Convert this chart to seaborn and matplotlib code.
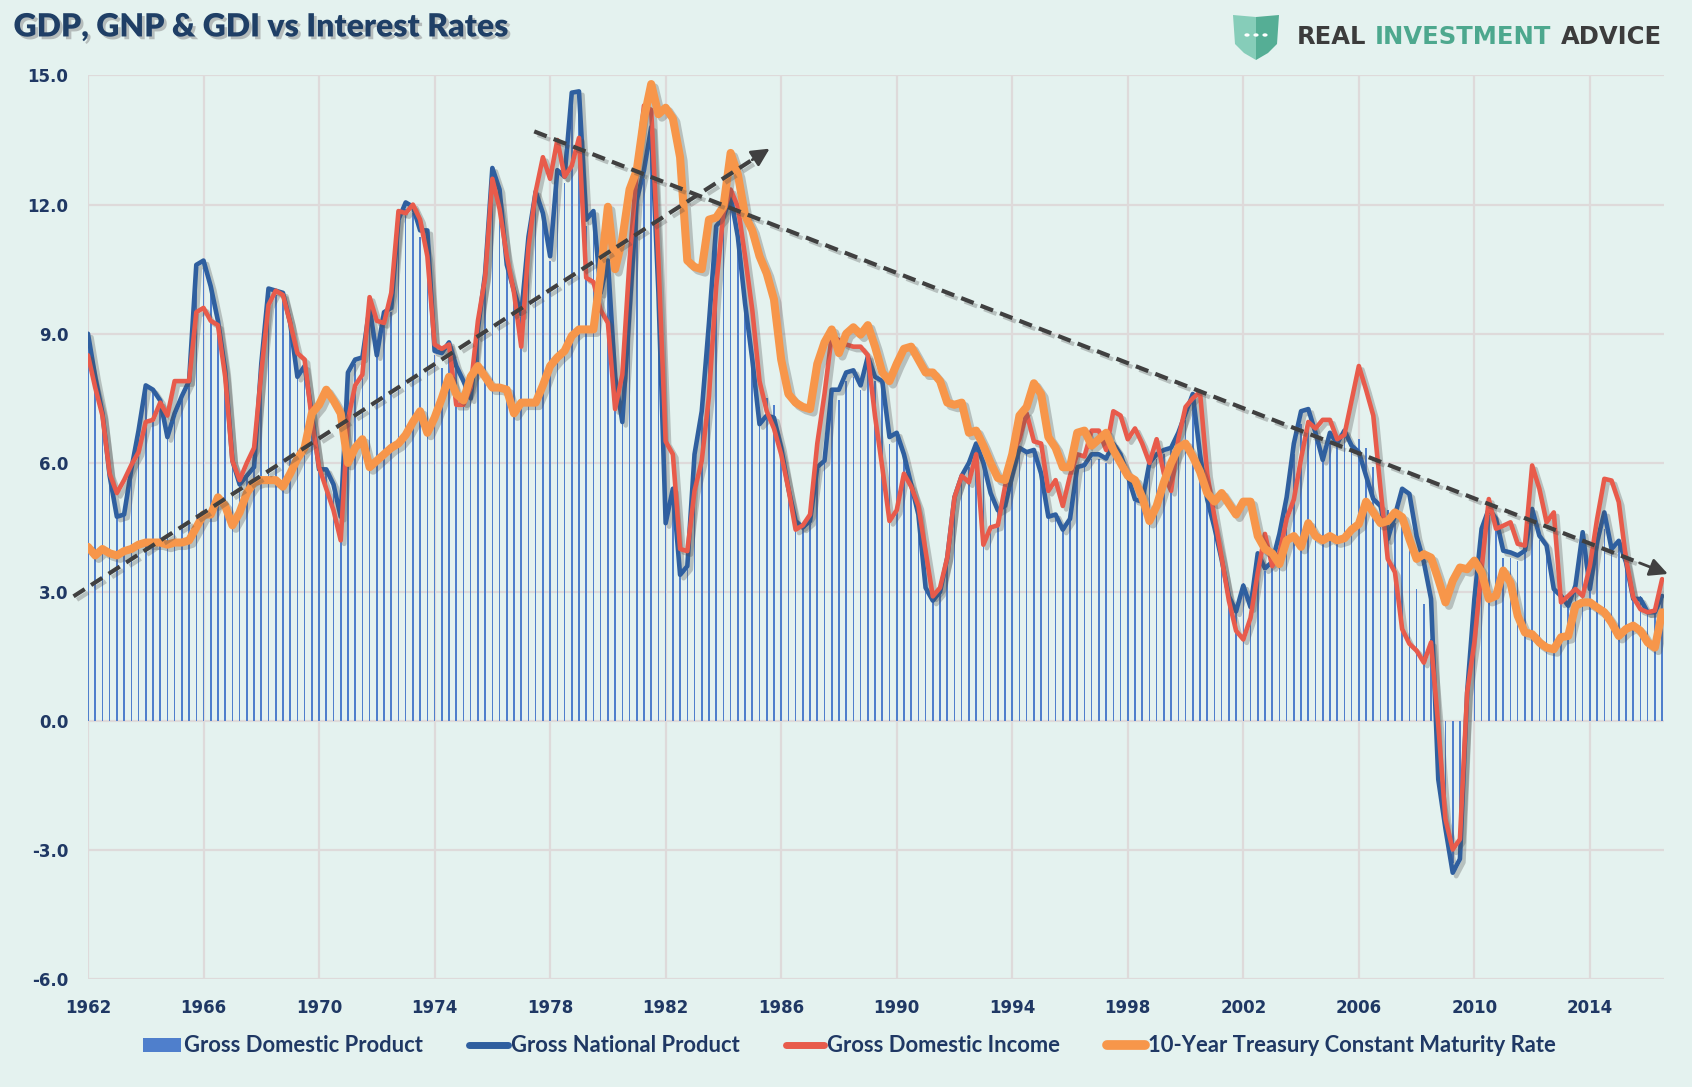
import numpy as np
import pandas as pd
import matplotlib
matplotlib.use("Agg")
import matplotlib.pyplot as plt
import matplotlib.patheffects as pe
from matplotlib.patches import Polygon, Circle, Patch
from matplotlib.lines import Line2D
import seaborn as sns

# quarterly, 1962Q1 .. 2016Q3, annual % change
gnp = [9.0, 8.0, 7.15, 5.7, 4.75, 4.8, 5.85, 6.75, 7.8, 7.7, 7.45, 6.6, 7.15, 7.55, 7.9, 10.6,
       10.7, 10.1, 9.3, 8.15, 6.05, 5.5, 5.7, 5.9, 8.3, 10.05, 10.0, 9.95, 9.25, 8.0, 8.25, 7.15,
       5.85, 5.85, 5.5, 4.75, 8.1, 8.4, 8.45, 9.6, 8.5, 9.5, 9.6, 11.65, 12.05, 11.95, 11.4, 11.4,
       8.6, 8.55, 8.8, 8.25, 7.9, 7.5, 9.1, 10.4, 12.85, 12.35, 10.6, 10.0, 9.45, 11.25, 12.3, 11.8,
       10.8, 12.8, 12.65, 14.6, 14.63, 11.65, 11.85, 9.95, 10.7, 8.0, 6.95, 9.55, 12.1, 12.8, 13.8, 9.95,
       4.6, 5.4, 3.4, 3.6, 6.2, 7.2, 9.25, 11.5, 11.7, 12.2, 11.25, 9.7, 8.4, 6.9, 7.1, 7.05,
       6.35, 5.4, 4.65, 4.5, 4.65, 5.9, 6.05, 7.7, 7.7, 8.1, 8.15, 7.8, 8.47, 8.0, 7.9, 6.6,
       6.7, 6.2, 5.5, 4.8, 3.1, 2.8, 3.0, 3.8, 5.2, 5.7, 6.0, 6.45, 6.0, 5.3, 4.9, 5.0,
       5.7, 6.35, 6.25, 6.3, 5.75, 4.75, 4.8, 4.45, 4.7, 5.9, 5.95, 6.2, 6.2, 6.1, 6.45, 6.2,
       5.7, 5.15, 5.1, 6.0, 6.2, 6.3, 6.35, 6.7, 7.15, 7.6, 6.2, 5.15, 4.5, 3.75, 2.9, 2.55,
       3.15, 2.65, 3.9, 3.55, 3.7, 4.35, 5.2, 6.45, 7.2, 7.25, 6.7, 6.07, 6.7, 6.45, 6.75, 6.4,
       6.25, 5.7, 5.16, 5.0, 4.23, 4.78, 5.4, 5.28, 4.3, 3.7, 2.84, -1.35, -2.5, -3.52, -3.2, 0.67,
       2.84, 4.47, 4.93, 4.7, 3.96, 3.92, 3.85, 3.96, 4.93, 4.31, 4.08, 3.07, 2.91, 2.68, 3.15, 4.39,
       3.07, 4.16, 4.85, 4.0, 4.19, 3.69, 2.84, 2.84, 2.53, 2.53, 2.91]

gdi = [8.5, 7.75, 7.1, 5.75, 5.3, 5.6, 5.95, 6.25, 6.95, 7.0, 7.4, 7.1, 7.9, 7.9, 7.9, 9.5,
       9.6, 9.3, 9.2, 8.0, 6.05, 5.6, 6.0, 6.35, 8.1, 9.67, 10.0, 9.9, 9.25, 8.55, 8.4, 7.0,
       5.9, 5.4, 4.9, 4.2, 7.0, 7.8, 8.05, 9.85, 9.3, 9.25, 9.95, 11.85, 11.8, 12.0, 11.65, 10.8,
       8.75, 8.65, 8.75, 7.35, 7.35, 7.75, 9.3, 10.3, 12.6, 11.9, 10.8, 9.95, 8.7, 11.0, 12.3, 13.1,
       12.6, 13.5, 12.65, 12.9, 13.55, 10.3, 10.2, 9.55, 9.25, 7.25, 8.05, 10.7, 12.8, 14.3, 14.2, 10.7,
       6.5, 6.2, 4.0, 3.95, 5.35, 6.05, 7.55, 10.1, 11.8, 12.35, 11.95, 10.8, 9.55, 7.9, 7.2, 6.8,
       6.2, 5.4, 4.45, 4.55, 4.8, 6.45, 7.6, 8.95, 8.85, 8.75, 8.7, 8.7, 8.5, 7.08, 5.9, 4.65,
       4.9, 5.75, 5.45, 5.0, 3.95, 2.9, 3.1, 3.8, 5.2, 5.7, 5.55, 6.2, 4.1, 4.5, 4.55, 5.45,
       6.2, 6.55, 7.15, 6.5, 6.45, 5.35, 5.6, 5.0, 5.7, 6.2, 6.15, 6.75, 6.75, 6.3, 7.2, 7.1,
       6.55, 6.8, 6.45, 6.0, 6.55, 5.75, 5.35, 6.55, 7.3, 7.5, 7.65, 5.75, 4.75, 3.8, 2.8, 2.1,
       1.9, 2.4, 3.45, 4.35, 3.6, 3.9, 4.7, 5.15, 6.1, 6.95, 6.8, 7.0, 7.0, 6.55, 6.65, 7.45,
       8.25, 7.7, 7.1, 5.4, 3.77, 3.46, 2.14, 1.8, 1.64, 1.36, 1.83, -0.1, -2.28, -2.98, -2.74, 0.67,
       1.83, 3.53, 5.16, 4.47, 4.54, 4.62, 4.12, 4.08, 5.94, 5.4, 4.62, 4.85, 2.76, 2.91, 3.07, 2.91,
       3.61, 4.7, 5.63, 5.59, 5.09, 3.77, 2.88, 2.6, 2.53, 2.57, 3.3]

gdp = [8.8, 7.9, 7.1, 5.7, 4.8, 4.9, 5.9, 6.7, 7.7, 7.7, 7.4, 6.7, 7.1, 7.5, 7.9, 10.4,
       10.6, 10.0, 9.3, 8.1, 6.1, 5.5, 5.7, 5.9, 8.2, 9.9, 9.9, 9.8, 9.2, 8.0, 8.2, 7.1,
       5.8, 5.8, 5.4, 4.7, 8.0, 8.3, 8.4, 9.5, 8.5, 9.4, 9.5, 11.5, 11.9, 11.8, 11.25, 11.2,
       8.5, 8.2, 8.7, 8.2, 7.9, 7.5, 9.0, 10.3, 12.7, 12.2, 10.5, 9.9, 9.4, 11.1, 12.1, 11.6,
       10.7, 12.6, 12.5, 14.3, 14.4, 11.5, 11.6, 9.9, 10.5, 7.9, 6.9, 9.4, 11.9, 12.6, 13.5, 9.8,
       4.7, 5.4, 3.5, 3.7, 6.2, 7.2, 9.2, 11.3, 11.5, 12.0, 11.1, 9.6, 8.3, 7.3, 7.5, 7.35,
       6.4, 5.5, 4.7, 4.6, 4.7, 5.9, 6.1, 7.5, 7.45, 7.9, 8.0, 7.7, 8.3, 7.9, 7.8, 6.45,
       6.6, 6.1, 5.4, 4.8, 3.2, 2.9, 3.1, 3.8, 5.1, 5.6, 5.9, 6.3, 5.9, 5.3, 4.9, 5.0,
       5.6, 6.2, 6.2, 6.2, 5.7, 4.8, 4.8, 4.5, 4.7, 5.8, 5.9, 6.1, 6.1, 6.0, 6.3, 6.1,
       5.6, 5.1, 5.1, 5.9, 6.1, 6.2, 6.3, 6.6, 7.0, 7.4, 6.2, 5.2, 4.5, 3.8, 3.0, 2.7,
       3.2, 2.8, 3.8, 3.5, 3.6, 4.3, 5.0, 6.2, 6.9, 7.0, 6.6, 6.1, 6.5, 6.4, 6.6, 6.5,
       6.55, 6.35, 5.9, 5.0, 4.9, 4.6, 4.5, 4.2, 3.07, 2.72, 1.9, -1.2, -2.6, -3.3, -2.9, 0.5,
       2.5, 4.3, 4.8, 4.6, 3.8, 3.8, 3.73, 3.9, 4.7, 4.2, 4.0, 3.1, 2.9, 2.7, 3.1, 4.2,
       3.1, 4.1, 4.47, 4.0, 4.1, 3.7, 2.9, 2.9, 2.6, 2.5, 2.9]

treasury_10y = [4.05, 3.85, 4.0, 3.9, 3.85, 3.95, 4.0, 4.1, 4.15, 4.15, 4.15, 4.1, 4.15, 4.15, 4.2, 4.5,
                4.8, 4.8, 5.2, 5.0, 4.55, 4.85, 5.3, 5.55, 5.6, 5.6, 5.6, 5.45, 5.75, 6.1, 6.35, 7.15,
                7.35, 7.7, 7.45, 7.15, 6.0, 6.35, 6.55, 5.9, 6.05, 6.2, 6.35, 6.45, 6.65, 6.95, 7.2, 6.7,
                7.05, 7.5, 8.0, 7.6, 7.45, 8.0, 8.25, 8.0, 7.75, 7.75, 7.7, 7.15, 7.4, 7.4, 7.4, 7.8,
                8.25, 8.45, 8.6, 8.95, 9.1, 9.1, 9.1, 10.4, 11.95, 10.5, 11.2, 12.35, 12.8, 14.0, 14.8, 14.1,
                14.25, 14.0, 13.1, 10.7, 10.55, 10.5, 11.65, 11.7, 11.95, 13.2, 12.7, 11.75, 11.4, 10.8, 10.4, 9.8,
                8.4, 7.6, 7.4, 7.3, 7.25, 8.3, 8.8, 9.1, 8.55, 9.0, 9.15, 8.98, 9.2, 8.7, 8.1, 7.9,
                8.3, 8.65, 8.7, 8.4, 8.1, 8.1, 7.9, 7.4, 7.35, 7.4, 6.7, 6.75, 6.4, 6.0, 5.65, 5.6,
                6.2, 7.1, 7.3, 7.85, 7.6, 6.6, 6.35, 5.9, 5.9, 6.7, 6.75, 6.4, 6.55, 6.7, 6.3, 6.0,
                5.7, 5.6, 5.2, 4.65, 5.0, 5.55, 6.0, 6.35, 6.45, 6.15, 5.8, 5.3, 5.1, 5.3, 5.05, 4.8,
                5.1, 5.1, 4.3, 4.0, 3.9, 3.65, 4.2, 4.3, 4.05, 4.6, 4.3, 4.2, 4.3, 4.2, 4.25, 4.45,
                4.58, 5.1, 4.85, 4.6, 4.65, 4.85, 4.74, 4.23, 3.77, 3.88, 3.8, 3.3, 2.76, 3.26, 3.57, 3.53,
                3.73, 3.46, 2.84, 2.91, 3.5, 3.22, 2.45, 2.06, 2.02, 1.83, 1.71, 1.67, 1.95, 1.98, 2.68, 2.76,
                2.76, 2.64, 2.53, 2.29, 1.98, 2.14, 2.22, 2.1, 1.83, 1.71, 2.53]

year_labels = list(range(1962, 2015, 4))

# trend arrows: (start quarter index, start value, end quarter index, end value)
trend_up = (-2.0, 2.9, 94.4, 13.3)
trend_down = (61.8, 13.7, 218.8, 3.42)

df = pd.DataFrame({"q": np.arange(len(gnp)), "GDP": gdp, "GNP": gnp,
                   "GDI": gdi, "T10": treasury_10y})

sns.set_theme(style="white")
plt.rcParams["font.family"] = ["DejaVu Sans"]

bg = "#E4F2EF"
navy = "#1F3864"
c_bar = "#4F7FCC"
c_gnp = "#2F5F9F"
c_gdi = "#E85B4B"
c_t10 = "#F7964A"

fig = plt.figure(figsize=(16.92, 10.87), dpi=100, facecolor=bg)
ax = fig.add_axes([0.052, 0.0989, 0.9314, 0.8317])
ax.set_facecolor(bg)

shadow = [pe.SimpleLineShadow(offset=(2.5, -2.5), shadow_color="#4d4d4d", alpha=0.3), pe.Normal()]

sns.barplot(data=df, x="q", y="GDP", native_scale=True, width=0.22, color=c_bar,
            saturation=1, ax=ax, zorder=2, linewidth=0)
sns.lineplot(data=df, x="q", y="GNP", color=c_gnp, lw=3.3, ax=ax, zorder=3, path_effects=shadow)
sns.lineplot(data=df, x="q", y="GDI", color=c_gdi, lw=3.3, ax=ax, zorder=4, path_effects=shadow)
sns.lineplot(data=df, x="q", y="T10", color=c_t10, lw=5.8, ax=ax, zorder=5, path_effects=shadow,
             solid_joinstyle="round")

# dashed trend arrows
for x0, y0, x1, y1 in (trend_up, trend_down):
    fx = x0 + (x1 - x0) * 0.975
    fy = y0 + (y1 - y0) * 0.975
    ax.plot([x0, fx], [y0, fy], color="#404040", lw=3, ls=(0, (3.2, 1.8)), zorder=6,
            clip_on=False, path_effects=shadow)
    ax.annotate("", xy=(x1, y1), xytext=(fx, fy), zorder=6, annotation_clip=False,
                arrowprops=dict(arrowstyle="-|>,head_length=0.9,head_width=0.45", lw=2,
                                color="#404040", shrinkA=0, shrinkB=0))

ax.set_xlim(0, 218.25)
ax.set_ylim(-6, 15)
ax.set_xticks(np.arange(0, len(gnp), 16))
ax.set_xticklabels([str(y) for y in year_labels])
ax.set_yticks(np.arange(-6, 16, 3))
ax.set_yticklabels([f"{v:.1f}" for v in np.arange(-6, 16, 3)])
ax.set_xlabel("")
ax.set_ylabel("")
ax.grid(True, color="#DEDADA", lw=1.6, zorder=0)
ax.set_axisbelow(True)
for s in ax.spines.values():
    s.set_visible(False)
ax.tick_params(axis="both", length=0, labelsize=12, labelcolor=navy)
ax.tick_params(axis="y", pad=14)
ax.tick_params(axis="x", pad=14)
for lab in ax.get_xticklabels() + ax.get_yticklabels():
    lab.set_fontweight("bold")

# title
fig.text(0.008, 1 - 27 / 1087, "GDP, GNP & GDI vs Interest Rates", fontsize=23, fontweight="heavy",
         family="Lato", color="#1F3F66", va="center", ha="left",
         path_effects=[pe.withSimplePatchShadow(offset=(2, -2), shadow_rgbFace="#888888", alpha=0.5)])

# logo
W, H = 1692.0, 1087.0
def fp(x, y):
    return (x / W, 1 - y / H)

left_half = [fp(1233, 15), fp(1256, 17), fp(1256, 60), fp(1244, 53), fp(1235, 44)]
right_half = [fp(1256, 17), fp(1279, 15), fp(1277, 44), fp(1268, 53), fp(1256, 60)]
fig.patches.append(Polygon(left_half, closed=True, transform=fig.transFigure, color="#86CDB9", lw=0))
fig.patches.append(Polygon(right_half, closed=True, transform=fig.transFigure, color="#55AE95", lw=0))
for cx in (1247, 1256, 1265):
    fig.patches.append(Circle(fp(cx, 35), 2.6 / W, transform=fig.transFigure, color="white", lw=0))
logo_font = dict(fontsize=17.5, family="DejaVu Sans", fontweight="bold", va="baseline")
fig.text(1297 / W, 1 - 44 / H, "REAL", color="#3C3C3C", **logo_font)
fig.text(1375 / W, 1 - 44 / H, "INVESTMENT", color="#4DA88E", **logo_font)
fig.text(1561 / W, 1 - 44 / H, "ADVICE", color="#3C3C3C", **logo_font)

# legend
handles = [Patch(color=c_bar, lw=0),
           Line2D([], [], color=c_gnp, lw=5),
           Line2D([], [], color=c_gdi, lw=5),
           Line2D([], [], color=c_t10, lw=7)]
labels = ["Gross Domestic Product", "Gross National Product", "Gross Domestic Income",
          "10-Year Treasury Constant Maturity Rate"]
leg = fig.legend(handles, labels, ncol=4, loc="center", bbox_to_anchor=(0.502, 1 - 1046 / H),
                 frameon=False, handlelength=1.75, handleheight=0.6, handletextpad=0.15,
                 columnspacing=2.1, prop={"family": "Lato", "weight": "bold", "size": 15.8})
for t in leg.get_texts():
    t.set_color(navy)

fig.savefig("out.png", dpi=100, facecolor=bg)
